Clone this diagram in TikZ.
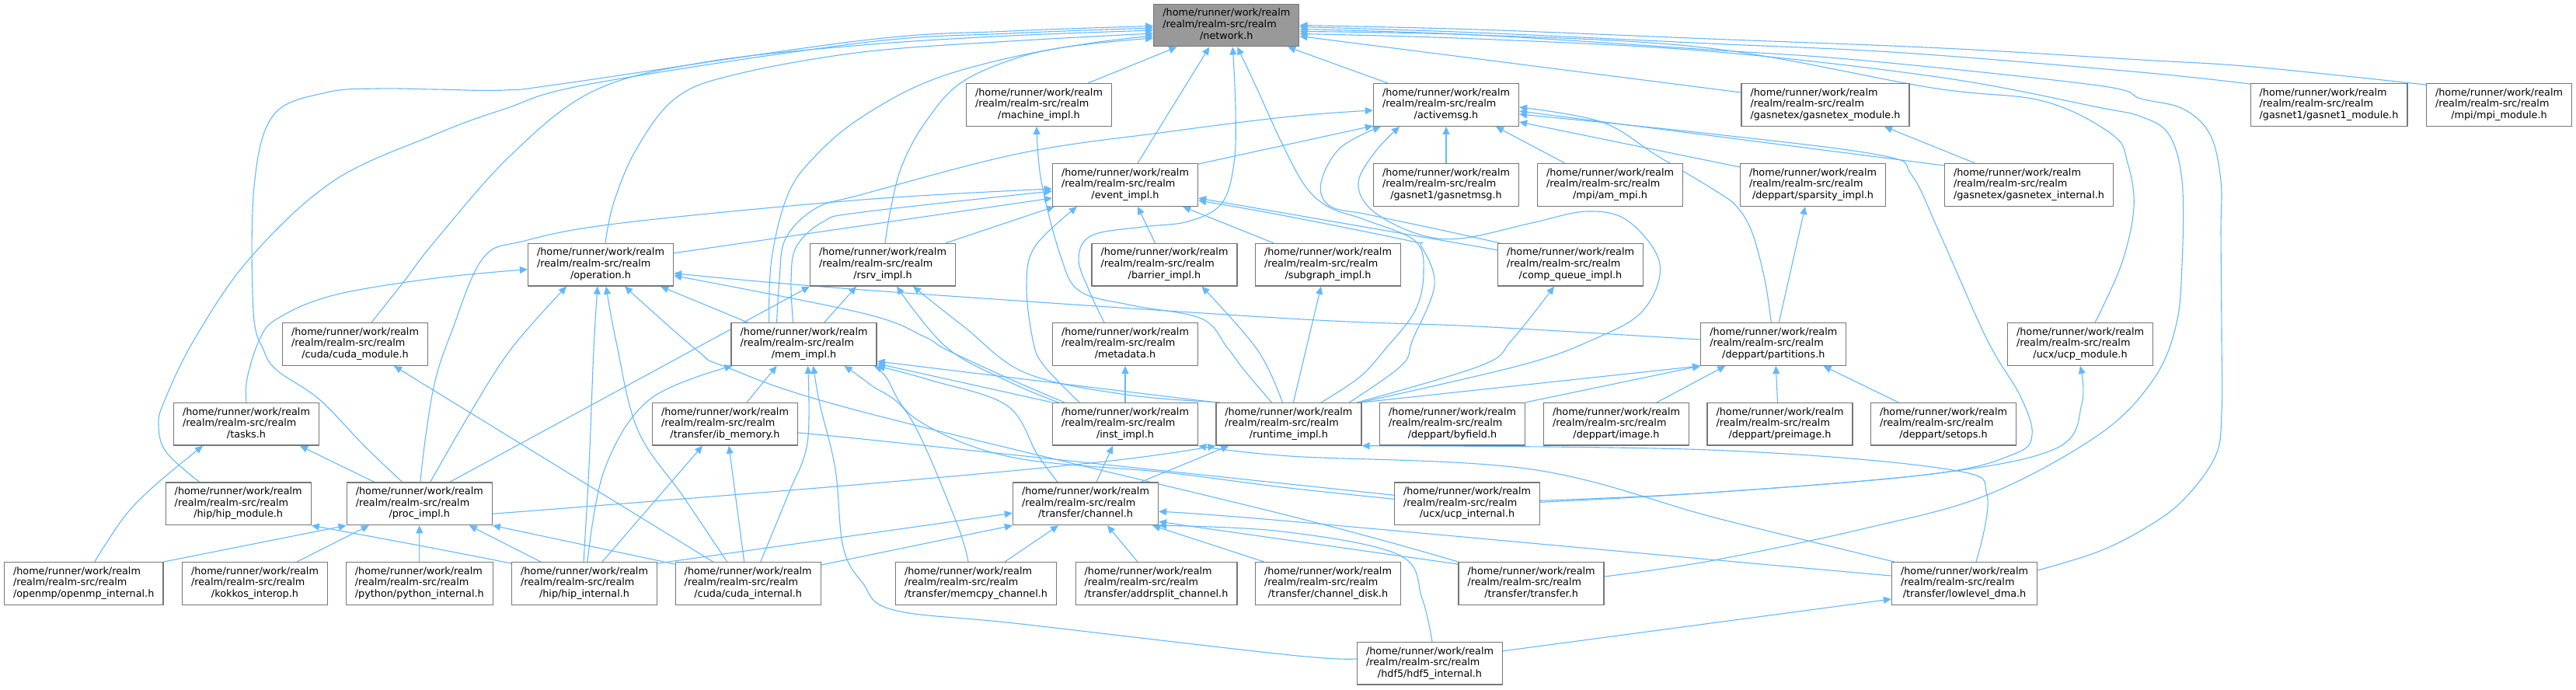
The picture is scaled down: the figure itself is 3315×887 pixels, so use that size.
\documentclass[tikz,border=0pt]{standalone}
\usepackage{fontspec}
\setmainfont{DejaVu Sans}
\usetikzlibrary{arrows.meta,calc}
\pgfdeclarelayer{bg}
\pgfsetlayers{bg,main}
\definecolor{edgec}{HTML}{63B8FF}
\definecolor{boxc}{HTML}{777777}
\definecolor{rootc}{HTML}{999999}
\newcommand{\lbl}[1]{\begin{tabular}{@{}l@{}}/home/runner/work/realm\\/realm/realm-src/realm\\\multicolumn{1}{@{}c@{}}{#1}\end{tabular}}
\tikzset{
 hdr/.style={draw=boxc, line width=1.3pt, fill=white, inner xsep=11.5pt, inner ysep=0pt, minimum height=54.6pt, font=\fontsize{12.8}{14.7}\selectfont, text=black},
 rootbox/.style={hdr, fill=rootc},
 dep/.style={draw=edgec, line width=1.1pt, -{Triangle[length=10pt,width=9pt]}},
 sm/.style={smooth, tension=0.6},
}
\begin{document}
\begin{tikzpicture}[x=1pt,y=-1pt]
\useasboundingbox (0,0) rectangle (3315,887);
% nodes
\node[rootbox] (network) at (1578.3,32.5) {\lbl{/network.h}};
\node[hdr] (machine) at (1337,135) {\lbl{/machine\_impl.h}};
\node[hdr] (activemsg) at (1861,135) {\lbl{/activemsg.h}};
\node[hdr] (gxmod) at (2349,135) {\lbl{/gasnetex/gasnetex\_module.h}};
\node[hdr] (g1mod) at (2997,135) {\lbl{/gasnet1/gasnet1\_module.h}};
\node[hdr] (mpimod) at (3216,135) {\lbl{/mpi/mpi\_module.h}};
\node[hdr] (event) at (1448,238) {\lbl{/event\_impl.h}};
\node[hdr] (gasnetmsg) at (1861,238) {\lbl{/gasnet1/gasnetmsg.h}};
\node[hdr] (ammpi) at (2072,238) {\lbl{/mpi/am\_mpi.h}};
\node[hdr] (sparsity) at (2333,238) {\lbl{/deppart/sparsity\_impl.h}};
\node[hdr] (gxint) at (2611,238) {\lbl{/gasnetex/gasnetex\_internal.h}};
\node[hdr] (operation) at (773,340.7) {\lbl{/operation.h}};
\node[hdr] (rsrv) at (1136,340.7) {\lbl{/rsrv\_impl.h}};
\node[hdr] (barrier) at (1498.5,340.7) {\lbl{/barrier\_impl.h}};
\node[hdr] (subgraph) at (1709,340.7) {\lbl{/subgraph\_impl.h}};
\node[hdr] (compq) at (2021,340.7) {\lbl{/comp\_queue\_impl.h}};
\node[hdr] (cudamod) at (457,443) {\lbl{/cuda/cuda\_module.h}};
\node[hdr] (mem) at (1034.6,443) {\lbl{/mem\_impl.h}};
\node[hdr] (metadata) at (1448,443) {\lbl{/metadata.h}};
\node[hdr] (partitions) at (2282.3,443) {\lbl{/deppart/partitions.h}};
\node[hdr] (ucpmod) at (2677,443) {\lbl{/ucx/ucp\_module.h}};
\node[hdr] (tasks) at (317,545.8) {\lbl{/tasks.h}};
\node[hdr] (inst) at (1448,545.8) {\lbl{/inst\_impl.h}};
\node[hdr] (runtime) at (1658.4,545.8) {\lbl{/runtime\_impl.h}};
\node[hdr] (byfield) at (1869,545.8) {\lbl{/deppart/byfield.h}};
\node[hdr] (image) at (2080,545.8) {\lbl{/deppart/image.h}};
\node[hdr] (preimage) at (2290.5,545.8) {\lbl{/deppart/preimage.h}};
\node[hdr] (setops) at (2501,545.8) {\lbl{/deppart/setops.h}};
\node[hdr] (ibmem) at (933,545.8) {\lbl{/transfer/ib\_memory.h}};
\node[hdr] (hipmod) at (306.7,648.3) {\lbl{/hip/hip\_module.h}};
\node[hdr] (proc) at (539.8,648.3) {\lbl{/proc\_impl.h}};
\node[hdr] (channel) at (1397,648.3) {\lbl{/transfer/channel.h}};
\node[hdr] (ucpint) at (1888,648.3) {\lbl{/ucx/ucp\_internal.h}};
\node[hdr] (openmp) at (107.7,751) {\lbl{/openmp/openmp\_internal.h}};
\node[hdr] (kokkos) at (328,751) {\lbl{/kokkos\_interop.h}};
\node[hdr] (python) at (539.8,751) {\lbl{/python/python\_internal.h}};
\node[hdr] (hipint) at (752,751) {\lbl{/hip/hip\_internal.h}};
\node[hdr] (cudaint) at (962.7,751) {\lbl{/cuda/cuda\_internal.h}};
\node[hdr] (memcpy) at (1256,751) {\lbl{/transfer/memcpy\_channel.h}};
\node[hdr] (addrsplit) at (1488,751) {\lbl{/transfer/addrsplit\_channel.h}};
\node[hdr] (chdisk) at (1709,751) {\lbl{/transfer/channel\_disk.h}};
\node[hdr] (transfer) at (1970.6,751) {\lbl{/transfer/transfer.h}};
\node[hdr] (lldma) at (2528,751) {\lbl{/transfer/lowlevel\_dma.h}};
\node[hdr] (hdf5) at (1840,853.8) {\lbl{/hdf5/hdf5\_internal.h}};
\begin{pgfonlayer}{bg}
% ---- into network (left)
\draw[dep] plot[sm] coordinates {($(proc.north)+(-22,0)$) (470,575) (411,514) (357,477) (339,450) (326,400) (327,240) (352,148) (420,119) (486,114) (560,115) (650,116) (729,107) (1110,52) (1300,40) ($(network.west)+(0,1)$)};
\draw[dep] plot[sm] coordinates {($(hipmod.north)+(-50,0)$) (214,582) (204,547) (212,515) (250,437) (321,333) (429,233) (560,173) (650,140) (760,108) (1110,55) (1300,43) ($(network.west)+(0,3.5)$)};
\draw[dep] plot[sm] coordinates {($(cudamod.north)+(21,0)$) (520,362) (560,310) (657,200) (764,117) (907,80) (1110,58) (1300,46) ($(network.west)+(0,6.5)$)};
\draw[dep] plot[sm] coordinates {($(operation.north)+(6,0)$) (790,260) (820,190) (871,125) (950,95) (1110,67) (1300,53) ($(network.west)+(0,10.5)$)};
\draw[dep] plot[sm] coordinates {($(rsrv.north)+(3,0)$) (1146,270) (1160,215) (1189,160) (1236,107) (1314,73) (1400,56) ($(network.west)+(0,13.5)$)};
\draw[dep] plot[sm] coordinates {($(mem.north)+(-45,0)$) (993,333) (1014,250) (1050,200) (1110,150) (1207,100) (1350,64) ($(network.west)+(0,16.5)$)};
% ---- into network (bottom)
\draw[dep] ($(machine.north)+(63,0)$) -- ($(network.south)+(-64,0)$);
\draw[dep] ($(event.north)+(16,0)$) -- ($(network.south)+(-22,0)$);
\draw[dep] plot[sm] coordinates {($(metadata.north)+(-27,0)$) (1402,375) (1388,333) (1405,303) (1470,292) (1529,285) (1572,262) (1588,210) (1590,140) ($(network.south)+(8,0)$)};
\draw[dep] ($(activemsg.north)+(-75,0)$) -- ($(network.south)+(79,0)$);
\draw[dep] plot[sm] coordinates {($(runtime.north)+(42,0)$) (1750,485) (1782,450) (1821,400) (1832,350) (1821,310) (1757,283) (1711,267) (1680,240) (1650,185) (1618,115) ($(network.south)+(14,0)$)};
% ---- into network (right)
\draw[dep] ($(gxmod.west)+(0,-16)$) -- ($(network.east)+(0,14)$);
\draw[dep] plot[sm] coordinates {($(g1mod.north west)+(0,1)$) (2755,93) (2450,68) (2200,56) (1900,42) ($(network.east)+(0,2)$)};
\draw[dep] plot[sm] coordinates {($(mpimod.north west)+(0,2)$) (2900,86) (2755,77) (2500,62) (2200,50) (1900,38) ($(network.east)+(0,0)$)};
\draw[dep] plot[sm] coordinates {($(ucpmod.north)+(19,0)$) (2730,340) (2746,267) (2738,210) (2718,173) (2629,130) (2486,113) (2200,62) (1900,45) ($(network.east)+(0,8)$)};
\draw[dep] plot[sm] coordinates {($(transfer.east)+(0,-9)$) (2200,722) (2400,680) (2557,637) (2700,560) (2770,490) (2800,420) (2808,340) (2808,233) (2791,173) (2755,150) (2700,138) (2500,100) (2200,66) (1900,50) ($(network.east)+(0,11)$)};
\draw[dep] plot[sm] coordinates {($(lldma.east)+(0,-17)$) (2700,710) (2760,680) (2809,644) (2851,587) (2859,530) (2859,437) (2858,300) (2858,233) (2844,173) (2809,140) (2755,127) (2700,110) (2400,78) (2200,64) (1900,45) ($(network.east)+(0,5)$)};
% ---- into activemsg
\draw[dep] ($(event.north east)+(0,1)$) -- ($(activemsg.south west)+(0,-1)$);
\draw[dep] plot[sm] coordinates {($(mem.north)+(-35,0)$) (1003,360) (1011,307) (1050,268) (1110,250) (1314,197) (1500,170) (1660,150) ($(activemsg.west)+(0,7)$)};
\draw[dep] plot[sm] coordinates {($(compq.north west)+(3,0)$) (1850,295) (1760,276) (1711,265) (1700,235) (1725,190) ($(activemsg.south west)+(10,0)$)};
\draw[dep] plot[sm] coordinates {($(runtime.north east)+(-2,0)$) (1957,470) (2050,437) (2114,400) (2136,340) (2096,285) (2043,272) (1971,287) (1879,307) (1821,300) (1765,270) (1748,235) (1770,195) ($(activemsg.south)+(-60,0)$)};
\draw[dep] (gasnetmsg.north) -- (activemsg.south);
\draw[dep] ($(ammpi.north)+(-58,0)$) -- ($(activemsg.south)+(64,0)$);
\draw[dep] plot[sm] coordinates {($(partitions.north)+(-3,0)$) (2271,360) (2255,300) (2236,267) (2210,247) (2132,200) (2061,157) ($(activemsg.east)+(0,3)$)};
\draw[dep] ($(sparsity.west)+(0,-23)$) -- ($(activemsg.east)+(0,22)$);
\draw[dep] ($(gxint.west)+(0,-25)$) -- ($(activemsg.east)+(0,8)$);
\draw[dep] plot[sm] coordinates {($(ucpint.east)+(0,-4)$) (2200,634) (2486,610) (2590,585) (2615,560) (2600,510) (2557,437) (2496,300) (2460,225) (2421,200) (2200,172) ($(activemsg.east)+(0,12)$)};
% ---- into event_impl
\draw[dep] plot[sm] coordinates {($(proc.north)+(1,0)$) (548,560) (560,490) (580,430) (621,333) (675,310) (800,287) (1110,257) ($(event.west)+(0,5)$)};
\draw[dep] plot[sm] coordinates {($(mem.north)+(-14,0)$) (1018,360) (1025,317) (1060,285) (1110,273) ($(event.west)+(0,8)$)};
\draw[dep] ($(operation.east)+(0,-15)$) -- ($(event.west)+(0,17)$);
\draw[dep] ($(rsrv.north east)+(-13,0)$) -- ($(event.south west)+(3,0)$);
\draw[dep] plot[sm] coordinates {($(inst.north)+(-59,0)$) (1343,470) (1329,437) (1321,367) (1332,317) ($(event.south)+(-62,0)$)};
\draw[dep] ($(barrier.north)+(-12,0)$) -- ($(event.south)+(16,0)$);
\draw[dep] ($(subgraph.north)+(-70,0)$) -- ($(event.south east)+(-20,0)$);
\draw[dep] ($(compq.west)+(0,-19)$) -- ($(event.east)+(0,17)$);
\draw[dep] plot[sm] coordinates {($(runtime.north)+(78,0)$) (1804,470) (1818,437) (1846,367) (1829,317) (1814,310) (1650,277) ($(event.east)+(0,20)$)};
% ---- runtime_impl upward
\draw[dep] plot[sm] coordinates {($(runtime.north)+(-22,0)$) (1600,475) (1579,447) (1546,410) (1457,393) (1390,375) (1365,330) (1340,233) ($(machine.south)+(-3,0)$)};
\draw[dep] plot[sm] coordinates {($(runtime.north)+(-8,0)$) (1618,450) ($(barrier.south)+(48,0)$)};
\draw[dep] ($(runtime.north)+(6,0)$) -- ($(subgraph.south)+(-9,0)$);
\draw[dep] plot[sm] coordinates {($(runtime.north east)+(-6,0)$) (1907,470) (1946,437) ($(compq.south)+(-21,0)$)};
\draw[dep] (runtime.north east) -- (partitions.south west);
\draw[dep] (runtime.north west) -- ($(mem.east)+(0,22)$);
\draw[dep] plot[sm] coordinates {($(runtime.north)+(-88,0)$) (1450,508) (1320,480) (1240,420) ($(rsrv.south)+(39,0)$)};
% ---- inst_impl upward
\draw[dep] plot[sm] coordinates {($(inst.north west)+(8,0)$) (1300,492) (1218,447) ($(rsrv.south)+(18,0)$)};
\draw[dep] (inst.north west) -- ($(mem.south east)+(0,-3)$);
\draw[dep] (inst.north) -- (metadata.south);
\draw[dep] plot[sm] coordinates {($(inst.north west)+(16,0)$) (1300,488) (1218,450) (1189,433) (1110,403) ($(operation.east)+(0,14)$)};
\draw[dep] plot[sm] coordinates {($(partitions.west)+(0,-6)$) (1900,420) (1660,410) (1110,373) ($(operation.east)+(0,11)$)};
% ---- channel and transfer
\draw[dep] ($(channel.north)+(14,0)$) -- ($(inst.south)+(-16,0)$);
\draw[dep] ($(channel.north)+(71,0)$) -- ($(runtime.south west)+(17,0)$);
\draw[dep] plot[sm] coordinates {($(channel.north)+(-36,0)$) (1335,585) (1296,522) (1200,490) (mem.south east)};
\draw[dep] plot[sm] coordinates {($(memcpy.north)+(-10,0)$) (1230,670) (1171,537) (1120,495) ($(mem.south)+(52,0)$)};
\draw[dep] ($(ibmem.north)+(28,0)$) -- ($(mem.south)+(-35,0)$);
\draw[dep] plot[sm] coordinates {($(hipint.north)+(4,0)$) (778,604) (836,514) ($(mem.south west)+(2,0)$)};
\draw[dep] plot[sm] coordinates {($(cudaint.north)+(16,0)$) (1014,637) (1039,570) ($(mem.south)+(5,0)$)};
\draw[dep] plot[sm] coordinates {($(hdf5.west)+(0,-6)$) (1660,843) (1314,803) (1150,785) (1110,750) (1085,704) (1075,604) (1055,520) ($(mem.south)+(12,0)$)};
\draw[dep] ($(hipint.north)+(23,0)$) -- ($(ibmem.south)+(-29,0)$);
\draw[dep] ($(cudaint.north)+(-5,0)$) -- ($(ibmem.south)+(5,0)$);
\draw[dep] plot[sm] coordinates {($(ucpint.west)+(0,-11)$) (1650,622) (1100,564) ($(ibmem.east)+(0,12)$)};
\draw[dep] plot[sm] coordinates {($(ucpint.west)+(0,-6)$) (1650,627) (1500,608) (1300,588) (1180,540) (1140,485) ($(mem.south east)+(-4,0)$)};
\draw[dep] plot[sm] coordinates {($(proc.east)+(0,13)$) (1100,624) (1421,594) (runtime.south west)};
\draw[dep] plot[sm] coordinates {($(lldma.north west)+(4,0)$) (2210,667) (1971,604) (1660,587) (inst.south east)};
\draw[dep] plot[sm] coordinates {($(lldma.north)+(15,0)$) (2557,637) (2507,604) (2200,579) (runtime.south east)};
\draw[dep] plot[sm] coordinates {($(lldma.west)+(0,-10)$) (2200,720) (1650,670) ($(channel.east)+(0,10)$)};
\draw[dep] plot[sm] coordinates {($(transfer.north west)+(0,3)$) (1650,694) ($(channel.east)+(0,23)$)};
\draw[dep] plot[sm] coordinates {($(hdf5.north)+(3,0)$) (1830,770) (1800,714) (1650,684) (channel.south east)};
\draw[dep] plot[sm] coordinates {(transfer.north west) (1660,664) (1110,530) (936,473) (896,450) ($(operation.south)+(31,0)$)};
\draw[dep] ($(hdf5.east)+(0,-16)$) -- ($(lldma.west)+(0,20)$);
\draw[dep] ($(memcpy.north)+(37,0)$) -- ($(channel.south)+(-35,0)$);
\draw[dep] ($(addrsplit.north)+(-24,0)$) -- ($(channel.south)+(28,0)$);
\draw[dep] ($(chdisk.north west)+(12,0)$) -- ($(channel.south east)+(-8,0)$);
\draw[dep] ($(hipint.north east)+(0,2)$) -- ($(channel.west)+(0,12)$);
\draw[dep] ($(cudaint.north east)+(0,4)$) -- (channel.south west);
% ---- bottom-left cluster
\draw[dep] plot[sm] coordinates {($(cudaint.north)+(-27,0)$) (880,640) (821,554) (793,440) ($(operation.south)+(7,0)$)};
\draw[dep] plot[sm] coordinates {($(hipint.north)+(-1,0)$) (758,600) (764,450) ($(operation.south)+(-4,0)$)};
\draw[dep] plot[sm] coordinates {($(hipint.north west)+(0,2)$) (550,704) (hipmod.south east)};
\draw[dep] ($(hipint.north)+(-56,0)$) -- ($(proc.south)+(64,0)$);
\draw[dep] ($(cudaint.north west)+(0,3)$) -- (proc.south east);
\draw[dep] ($(cudaint.north)+(-45,0)$) -- ($(cudamod.south)+(50,0)$);
\draw[dep] plot[sm] coordinates {($(openmp.north)+(14,0)$) (160,665) (200,624) ($(tasks.south)+(-56,0)$)};
\draw[dep] (openmp.north east) -- (proc.south west);
\draw[dep] ($(kokkos.north)+(54,0)$) -- ($(proc.south)+(-65,0)$);
\draw[dep] (python.north) -- (proc.south);
\draw[dep] ($(proc.north)+(-58,0)$) -- ($(tasks.south)+(69,0)$);
\draw[dep] plot[sm] coordinates {(tasks.north) (318,487) (334,437) (357,410) (429,380) (560,358) ($(operation.west)+(0,6)$)};
\draw[dep] plot[sm] coordinates {($(proc.north)+(14,0)$) (600,540) (657,450) ($(operation.south)+(-44,0)$)};
\draw[dep] ($(proc.north)+(39,0)$) -- (rsrv.south west);
\draw[dep] ($(mem.north west)+(22,0)$) -- ($(operation.south east)+(-17,0)$);
\draw[dep] ($(mem.north)+(26,0)$) -- ($(rsrv.south)+(-34,0)$);
% ---- right cluster
\draw[dep] ($(gxint.north west)+(40,0)$) -- ($(gxmod.south)+(76,0)$);
\draw[dep] ($(partitions.north)+(7,0)$) -- ($(sparsity.south)+(-10,0)$);
\draw[dep] (byfield.north east) -- (partitions.south west);
\draw[dep] ($(image.north)+(52,0)$) -- ($(partitions.south)+(-62,0)$);
\draw[dep] ($(preimage.north)+(-3,0)$) -- ($(partitions.south)+(3,0)$);
\draw[dep] ($(setops.north)+(-58,0)$) -- ($(partitions.south east)+(-30,0)$);
\draw[dep] plot[sm] coordinates {($(ucpint.east)+(0,-2)$) (2200,634) (2486,610) (2646,577) (2679,520) (ucpmod.south)};
\end{pgfonlayer}
\end{tikzpicture}
\end{document}
